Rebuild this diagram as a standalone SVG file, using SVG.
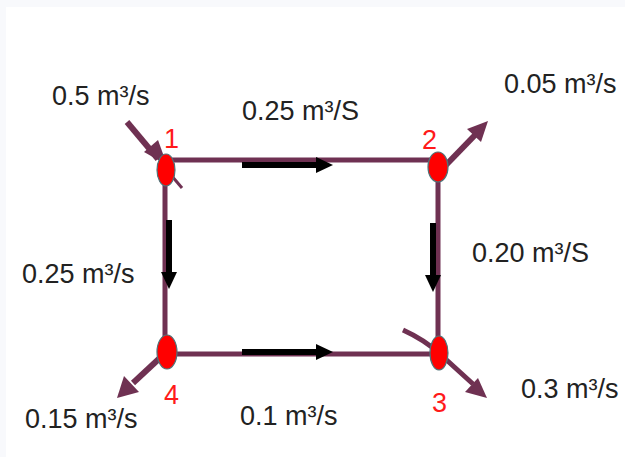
<svg xmlns="http://www.w3.org/2000/svg" width="625" height="457" viewBox="0 0 625 457">
<style>
.pipe{stroke:#6f3152;stroke-width:5;fill:none;stroke-linecap:butt}
.flow{stroke:#6f3152;stroke-width:6;fill:none}
.head{fill:#6f3152}
.blk{stroke:#000;stroke-width:6;fill:none}
.bhead{fill:#000}
.node{fill:#ff0000;stroke:#4f7379;stroke-width:1.2}
.lbl{font-family:"Liberation Sans",Arial,sans-serif;font-size:27px;fill:#222}
.num{font-family:"Liberation Sans",Arial,sans-serif;font-size:27px;fill:#ff1a1a}
</style>
<rect x="0" y="0" width="625" height="457" fill="#f8f9fc"/>
<rect x="6" y="7" width="619" height="450" fill="#ffffff"/>
<g id="connectors">
<path class="pipe" d="M165 160 H438 M165 160 V354 M438 160 V354 M165 354 H438"/>
<path class="flow" d="M127 122 L158 159"/>
<path class="flow" style="stroke-width:3" d="M160 162 L182 188"/>
<polygon class="head" points="144,152 158,140 167,165"/>
<path class="flow" d="M446 165 L476 134"/>
<polygon class="head" points="467,129 481,142 488,121"/>
<path class="flow" d="M162 356 L133 383"/>
<polygon class="head" points="139,392 124,376 117,398"/>
<path class="flow" style="stroke-width:5" d="M403 330 Q425 340 440 354 L473 384"/>
<polygon class="head" points="465,392 478,378 487,398"/>
<path class="blk" d="M242 165 H318"/>
<polygon class="bhead" points="316,157 333,165 316,173"/>
<path class="blk" d="M242 352 H318"/>
<polygon class="bhead" points="316,344 333,352 316,360"/>
<path class="blk" d="M169 220 V273"/>
<polygon class="bhead" points="161,272 177,272 169,289"/>
<path class="blk" d="M433 223 V276"/>
<polygon class="bhead" points="425,275 441,275 433,292"/>
</g>
<g id="node1">
<ellipse class="node" cx="166" cy="170" rx="9" ry="16"/>
<text class="num" x="164" y="148">1</text>
</g>
<g id="node2">
<ellipse class="node" cx="438" cy="167" rx="10" ry="15"/>
<text class="num" x="422" y="149">2</text>
</g>
<g id="node3">
<ellipse class="node" cx="439" cy="353" rx="9" ry="17"/>
<text class="num" x="432" y="412">3</text>
</g>
<g id="node4">
<ellipse class="node" cx="167" cy="352" rx="10" ry="17"/>
<text class="num" x="164" y="404">4</text>
</g>
<g id="labels">
<text class="lbl" x="52" y="105">0.5 m³/s</text>
<text class="lbl" x="242" y="120">0.25 m³/S</text>
<text class="lbl" x="504" y="93">0.05 m³/s</text>
<text class="lbl" x="22" y="283">0.25 m³/s</text>
<text class="lbl" x="472" y="262">0.20 m³/S</text>
<text class="lbl" x="25" y="428">0.15 m³/s</text>
<text class="lbl" x="240" y="425">0.1 m³/s</text>
<text class="lbl" x="521" y="398">0.3 m³/s</text>
</g>
</svg>
